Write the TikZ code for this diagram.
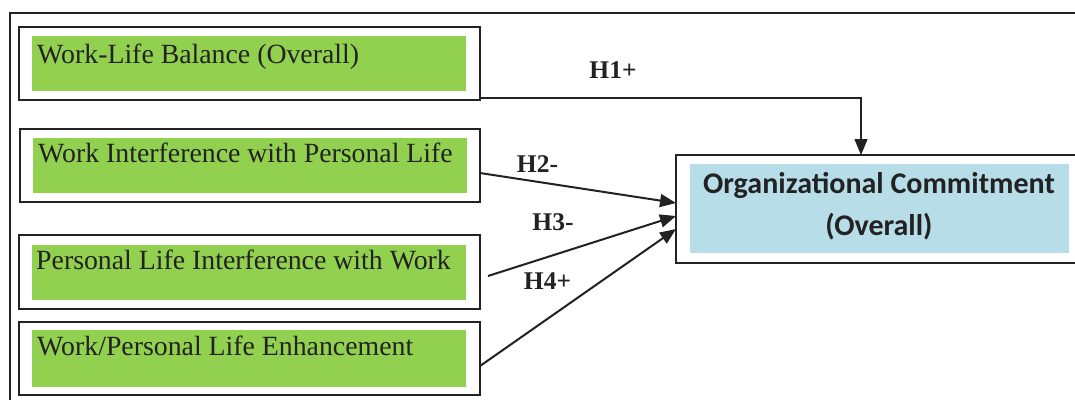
\documentclass[tikz,border=0pt]{standalone}
\usepackage{fontspec}
\setmainfont{Liberation Serif}
\newfontfamily\calib{Carlito}
\usetikzlibrary{arrows.meta,calc}
\definecolor{boxgreen}{HTML}{92D050}
\definecolor{boxblue}{HTML}{B7DDE8}
\definecolor{ink}{HTML}{222222}
\tikzset{
  outerbox/.style={draw=ink, line width=1.8pt, fill=white, inner sep=0pt, anchor=center},
  greenbox/.style={fill=boxgreen, inner sep=0pt, anchor=center, minimum width=434pt, minimum height=55pt},
  boxtext/.style={font=\fontsize{27.8}{32}\selectfont, text=ink, inner sep=0pt, anchor=base west},
  octext/.style={font=\calib\bfseries\fontsize{30}{38}\selectfont, text=ink, inner sep=0pt, anchor=base},
  hlabel/.style={font=\fontsize{25.5}{28}\selectfont\bfseries, text=ink, inner sep=0pt, anchor=base},
  conn/.style={draw=ink, line width=2pt, -{Triangle[length=16pt,width=13pt]}},
}
\begin{document}
\begin{tikzpicture}[x=1pt,y=1pt]
\useasboundingbox (0,0) rectangle (1075,-399);
\clip (0,0) rectangle (1075,-399);
\fill[white] (0,0) rectangle (1075,-399);
% outer frame
\draw[ink, line width=2.5pt] (10,-420) -- (10,-13) -- (1100,-13);
% left boxes
\node[outerbox, minimum width=461pt, minimum height=73pt] (b1) at (249.5,-63.5) {};
\node[greenbox] (g1) at (249,-63.5) {};
\node[boxtext] (t1) at (37,-63) {Work-Life Balance (Overall)};
\node[outerbox, minimum width=460pt, minimum height=73pt] (b2) at (250,-165.5) {};
\node[greenbox] (g2) at (250,-165.5) {};
\node[boxtext] (t2) at (38,-162) {Work Interference with Personal Life};
\node[outerbox, minimum width=461pt, minimum height=74pt] (b3) at (249.5,-272) {};
\node[greenbox] (g3) at (249,-272.5) {};
\node[boxtext] (t3) at (36,-269) {Personal Life Interference with Work};
\node[outerbox, minimum width=461pt, minimum height=73pt] (b4) at (249.5,-358.5) {};
\node[greenbox, minimum height=57pt] (g4) at (249,-358.5) {};
\node[boxtext] (t4) at (37,-355) {Work/Personal Life Enhancement};
% target box
\node[outerbox, minimum width=409pt, minimum height=108pt] (oc) at (880.5,-209) {};
\node[fill=boxblue, inner sep=0pt, minimum width=379pt, minimum height=89pt] (ocb) at (879.5,-208.5) {};
\node[octext] (oct1) at (879,-193) {Organizational Commitment};
\node[octext] (oct2) at (879,-235) {(Overall)};
% connector end points
\coordinate (s1) at ($(b1.south east)+(0,3)$);
\coordinate (e1) at (861,-155);
\coordinate (s2) at (480,-173);
\coordinate (e2) at (676,-203);
\coordinate (s3) at (488,-276);
\coordinate (e3) at (676,-216);
\coordinate (s4) at (480,-366);
\coordinate (e4) at (676,-229);
% connectors
\draw[conn, line width=1.5pt] (s1) -- (s1 -| e1) -- (e1);
\draw[conn] (s2) -- (e2);
\draw[conn] (s3) -- (e3);
\draw[conn] (s4) -- (e4);
% labels
\node[hlabel] (l1) at (613,-78) {H1+};
\node[hlabel] (l2) at (537.5,-172) {H2-};
\node[hlabel] (l3) at (553,-230) {H3-};
\node[hlabel] (l4) at (547.5,-289) {H4+};
\end{tikzpicture}
\end{document}
